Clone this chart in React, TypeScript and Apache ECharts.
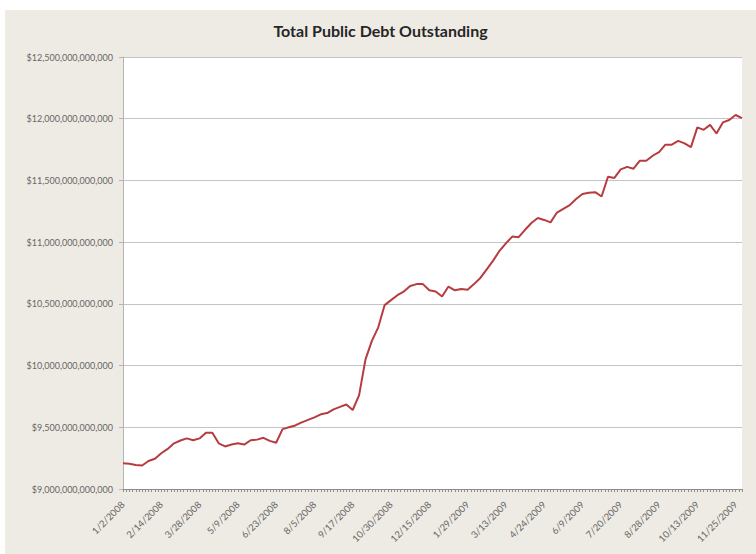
import React, { useEffect, useRef } from 'react';
import * as echarts from 'echarts';

const chartTitle = 'Total Public Debt Outstanding';

const tickLabels = [
  '1/2/2008', '2/14/2008', '3/28/2008', '5/9/2008', '6/23/2008', '8/5/2008',
  '9/17/2008', '10/30/2008', '12/15/2008', '1/29/2009', '3/13/2009', '4/24/2009',
  '6/9/2009', '7/20/2009', '8/28/2009', '10/13/2009', '11/25/2009',
];

// Weekly readings, trillions of dollars
const debtTrillions = [
  9.208, 9.205, 9.195, 9.19, 9.227, 9.245, 9.29, 9.325, 9.37, 9.393,
  9.41, 9.395, 9.41, 9.456, 9.456, 9.37, 9.345, 9.36, 9.37, 9.36,
  9.395, 9.40, 9.415, 9.39, 9.375, 9.485, 9.50, 9.515, 9.54, 9.56,
  9.58, 9.605, 9.615, 9.645, 9.665, 9.685, 9.64, 9.76, 10.05, 10.2,
  10.31, 10.49, 10.53, 10.57, 10.6, 10.645, 10.66, 10.66, 10.61, 10.6,
  10.56, 10.64, 10.61, 10.62, 10.615, 10.66, 10.71, 10.78, 10.85, 10.93,
  10.99, 11.045, 11.04, 11.10, 11.155, 11.195, 11.18, 11.16, 11.24, 11.27,
  11.30, 11.35, 11.39, 11.40, 11.405, 11.37, 11.53, 11.52, 11.59, 11.61,
  11.595, 11.66, 11.66, 11.70, 11.73, 11.79, 11.79, 11.82, 11.80, 11.77,
  11.93, 11.91, 11.95, 11.88, 11.97, 11.99, 12.03, 12.005,
];

const weeksPerLabel = 6;
const yMin = 9.0;
const yMax = 12.5;
const yStep = 0.5;

export default function App() {
  const ref = useRef<HTMLDivElement>(null);

  useEffect(() => {
    if (!ref.current) return;
    const chart = echarts.init(ref.current, null, { renderer: 'svg' });

    const categories = debtTrillions.map((_, i) =>
      i % weeksPerLabel === 0 ? tickLabels[i / weeksPerLabel] : String(i)
    );
    const tickCats = Array.from({ length: (debtTrillions.length - 1) * 2 + 1 }, (_, i) => 't' + i);

    const fmtDollars = (v: number) =>
      '$' + (Math.round(v * 1000) * 1e9).toLocaleString('en-US');

    chart.setOption({
      animation: false,
      backgroundColor: '#eeebe4',
      textStyle: { fontFamily: 'Lato, "Open Sans", sans-serif' },
      title: {
        text: chartTitle,
        left: 'center',
        top: 7,
        textStyle: { fontFamily: 'Lato', fontWeight: 'bold', fontSize: 16, color: '#262626' },
      },
      grid: {
        left: 118,
        right: 14,
        top: 47,
        bottom: 65,
        show: true,
        backgroundColor: '#ffffff',
        borderWidth: 0,
      },
      xAxis: [
        {
          type: 'category',
          data: categories,
          boundaryGap: false,
          axisLine: { show: true, lineStyle: { color: '#8c8c8c', width: 1 } },
          axisTick: { show: false },
          axisLabel: {
            interval: weeksPerLabel - 1,
            rotate: 45,
            margin: 14,
            fontSize: 9.5,
            color: '#666666',
            fontFamily: 'Lato',
          },
          splitLine: { show: false },
        },
        {
          type: 'category',
          data: tickCats,
          boundaryGap: false,
          position: 'bottom',
          axisLine: { show: false },
          axisTick: { show: true, interval: 0, length: 3, lineStyle: { color: '#8c8c8c', width: 1 } },
          axisLabel: { show: false },
          splitLine: { show: false },
        },
      ],
      yAxis: {
        type: 'value',
        min: yMin,
        max: yMax,
        interval: yStep,
        axisLine: { show: true, lineStyle: { color: '#b4b4b4', width: 1 } },
        axisTick: { show: true, length: 4, lineStyle: { color: '#b4b4b4' } },
        axisLabel: {
          formatter: fmtDollars,
          fontSize: 9,
          color: '#666666',
          margin: 10,
          fontFamily: 'Lato',
        },
        splitLine: { show: true, lineStyle: { color: '#c4c4c4', width: 1 } },
      },
      series: [
        {
          type: 'line',
          data: debtTrillions,
          xAxisIndex: 0,
          showSymbol: false,
          symbol: 'none',
          lineStyle: { color: '#b63c40', width: 2 },
          z: 5,
        },
      ],
    });

    return () => chart.dispose();
  }, []);

  return (
    <div style={{ position: 'absolute', left: 0, top: 0, width: 756, height: 554, background: '#ffffff' }}>
      <div ref={ref} style={{ position: 'absolute', left: 5, top: 10, width: 751, height: 544 }} />
    </div>
  );
}
